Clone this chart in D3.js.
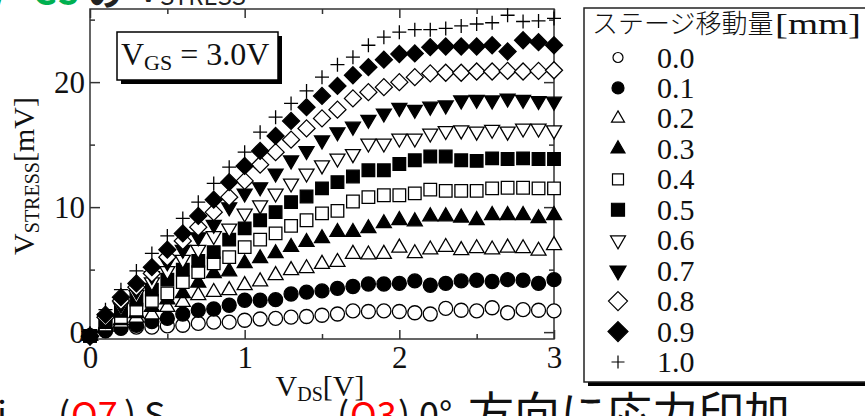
<!DOCTYPE html>
<html><head><meta charset="utf-8">
<script src="https://cdn.jsdelivr.net/npm/d3@7"></script>
<style>
html,body{margin:0;padding:0;background:#fff;}
svg{display:block;}
</style></head><body>
<svg id="chart" width="865" height="416"></svg>
<script>
// Drain voltage sweep [V]
const vds = [0.0,0.1,0.2,0.3,0.4,0.5,0.6,0.7,0.8,0.9,1.0,1.1,1.2,1.3,1.4,1.5,1.6,1.7,1.8,1.9,2.0,2.1,2.2,2.3,2.4,2.5,2.6,2.7,2.8,2.9,3.0];

// V_STRESS [mV] for each stage displacement
const s00 = [-0.3,0.1,0.3,0.4,0.4,0.5,0.55,0.7,0.8,0.8,0.95,1.05,1.1,1.2,1.25,1.35,1.45,1.7,1.65,1.7,1.65,1.55,1.45,1.9,1.75,1.7,1.95,1.55,1.8,1.75,1.7];
const s01 = [-0.3,0.15,0.35,0.55,0.85,1.1,1.45,1.75,1.85,2.15,2.55,2.55,2.6,3.05,3.2,3.3,3.5,3.65,3.85,3.85,3.9,4.1,3.75,3.9,4.1,4.15,4.05,4.2,4.15,3.9,4.2];
const s02 = [-0.3,0.4,0.75,1.15,1.4,2.0,2.4,2.95,3.2,3.35,3.75,4.05,4.55,4.95,5.1,5.45,5.6,6.25,6.2,6.25,6.75,6.3,6.6,6.8,6.55,6.7,6.6,6.75,6.7,6.5,6.95];
const s03 = [-0.3,0.5,0.95,1.5,2.0,2.6,3.1,3.95,4.7,4.85,5.5,5.9,6.3,6.8,7.2,7.5,8.0,8.0,8.3,8.7,8.95,8.85,9.25,9.25,9.15,8.95,9.35,9.35,9.35,9.1,9.35];
const s04 = [-0.3,0.6,1.2,1.8,2.5,3.1,4.0,4.8,5.5,6.0,6.8,7.4,7.9,8.5,8.95,9.5,9.7,10.45,10.8,10.95,10.95,11.1,11.4,11.3,11.3,11.3,11.5,11.55,11.55,11.5,11.5];
const s05 = [-0.3,0.8,1.7,2.6,3.4,4.2,5.0,5.7,6.4,7.4,8.3,8.95,9.6,10.4,10.85,11.5,12.0,12.45,12.95,12.95,13.45,13.75,14.05,14.05,13.75,13.7,13.9,13.85,13.9,13.85,13.85];
const s06 = [-0.3,1.0,2.0,3.0,4.0,4.9,5.8,6.6,7.7,8.3,9.5,10.15,11.1,11.9,12.7,13.35,13.9,14.25,15.1,15.1,15.5,15.5,15.9,16.1,16.15,16.05,16.2,16.05,16.3,16.3,16.15];
const s07 = [-0.3,1.1,2.2,3.3,4.5,5.6,6.6,7.6,8.6,10.0,11.1,11.6,12.7,13.75,14.5,15.35,16.0,16.45,17.0,17.5,17.95,17.8,18.05,18.15,18.55,18.6,18.55,18.7,18.6,18.5,18.45];
const s08 = [-0.3,1.2,2.5,3.6,4.7,6.0,7.3,8.4,9.6,10.8,12.1,13.4,14.4,15.4,16.3,17.1,17.8,18.7,19.2,19.6,20.0,20.4,20.7,20.75,20.75,20.85,20.85,20.9,20.85,20.9,20.95];
const s09 = [-0.35,1.4,2.8,3.9,5.2,6.6,7.9,9.3,10.6,12.0,13.3,14.5,15.7,16.9,18.0,18.9,19.7,20.55,21.2,21.8,22.25,22.3,22.8,22.85,22.85,22.85,22.95,22.45,23.35,23.2,22.95];
const s10 = [-0.3,1.8,3.4,4.9,6.3,7.7,9.1,10.4,11.9,13.2,14.4,16.0,17.2,18.3,19.3,20.4,21.4,22.0,22.95,23.6,24.0,24.2,24.2,24.3,24.5,24.65,24.75,25.35,24.85,24.9,25.1];

const stageLabels = ["0.0","0.1","0.2","0.3","0.4","0.5","0.6","0.7","0.8","0.9","1.0"];
const xMajorTicks = [0,1,2,3];
const xMinorTicks = [0.5,1.5,2.5];
const yMajorTicks = [0,10,20];
const yMinorTicks = [5,15,25];

// ---- marker shapes as d3 symbol types (size = (2*halfWidth)^2) ----
const shapes = {
  circle:  {draw(c,s){const r=Math.sqrt(s)/2; c.moveTo(r,0); c.arc(0,0,r,0,2*Math.PI);}},
  square:  {draw(c,s){const r=Math.sqrt(s)/2; c.rect(-r,-r,2*r,2*r);}},
  triUp:   {draw(c,s){const r=Math.sqrt(s)/2, h=r*Math.sqrt(3); c.moveTo(0,-h*2/3); c.lineTo(r,h/3); c.lineTo(-r,h/3); c.closePath();}},
  triDown: {draw(c,s){const r=Math.sqrt(s)/2, h=r*Math.sqrt(3); c.moveTo(0,h*2/3); c.lineTo(r,-h/3); c.lineTo(-r,-h/3); c.closePath();}},
  diamond: {draw(c,s){const r=Math.sqrt(s)/2; c.moveTo(0,-r); c.lineTo(r,0); c.lineTo(0,r); c.lineTo(-r,0); c.closePath();}},
  plus:    {draw(c,s){const r=Math.sqrt(s)/2; c.moveTo(-r,0); c.lineTo(r,0); c.moveTo(0,-r); c.lineTo(0,r);}}
};

const series = [
  {label: stageLabels[0],  values: s00, shape: "circle",  filled: false, half: 7,   lhalf: 5},
  {label: stageLabels[1],  values: s01, shape: "circle",  filled: true,  half: 7,   lhalf: 6},
  {label: stageLabels[2],  values: s02, shape: "triUp",   filled: false, half: 7.5, lhalf: 6.5},
  {label: stageLabels[3],  values: s03, shape: "triUp",   filled: true,  half: 7.5, lhalf: 7},
  {label: stageLabels[4],  values: s04, shape: "square",  filled: false, half: 6.3, lhalf: 5.5},
  {label: stageLabels[5],  values: s05, shape: "square",  filled: true,  half: 6.3, lhalf: 6.5},
  {label: stageLabels[6],  values: s06, shape: "triDown", filled: false, half: 7.5, lhalf: 7.5},
  {label: stageLabels[7],  values: s07, shape: "triDown", filled: true,  half: 7.5, lhalf: 8},
  {label: stageLabels[8],  values: s08, shape: "diamond", filled: false, half: 8.5, lhalf: 9.5},
  {label: stageLabels[9],  values: s09, shape: "diamond", filled: true,  half: 8.5, lhalf: 10},
  {label: stageLabels[10], values: s10, shape: "plus",    filled: false, half: 7,   lhalf: 6.5}
];

const svg = d3.select("#chart");
const serif = "'Liberation Serif','Times New Roman',serif";
const ink = "#111";

// ---- slide text around the figure ----
const headText = svg.append("g").attr("font-family", "'Noto Sans CJK JP','Noto Sans',sans-serif");
headText.append("text").attr("x", -14).attr("y", 5).attr("font-size", 34).attr("font-weight", "bold").attr("fill", "#00b050").text("V");
headText.append("text").attr("x", 33).attr("y", 5).attr("font-size", 34).attr("font-weight", "bold").attr("fill", "#00b050").text("GS");
headText.append("text").attr("x", 88).attr("y", 6).attr("font-size", 34).attr("font-weight", "bold").attr("fill", "#222").text("の");
headText.append("text").attr("x", 138).attr("y", 2).attr("font-size", 36).attr("fill", "#222").text("V");
headText.append("text").attr("x", 160).attr("y", 5).attr("font-size", 24).attr("fill", "#222").text("STRESS");

const footText = svg.append("g").attr("font-family", "'Noto Sans CJK JP','Noto Sans',sans-serif");
const footBits = [
  {x: -3,  y: 428, size: 36, text: "i",  color: "#111"},
  {x: 58,  y: 428, size: 36, text: "(",  color: "#111"},
  {x: 71,  y: 428, size: 36, text: "Q7", color: "#ff0000"},
  {x: 124, y: 428, size: 36, text: ")",  color: "#111"},
  {x: 144, y: 428, size: 36, text: "S",  color: "#111"},
  {x: 337, y: 428, size: 36, text: "(",  color: "#111"},
  {x: 350, y: 428, size: 36, text: "Q3", color: "#ff0000"},
  {x: 398, y: 428, size: 36, text: ")",  color: "#111"},
  {x: 419, y: 428, size: 36, text: "0°", color: "#111"},
  {x: 468, y: 430, size: 46, text: "方向に応力印加", color: "#111"}
];
footText.selectAll("text").data(footBits).join("text")
  .attr("x", d => d.x).attr("y", d => d.y).attr("font-size", d => d.size)
  .attr("fill", d => d.color).text(d => d.text);

// ---- plot area ----
const x = d3.scaleLinear().domain([0, 3]).range([90, 554]);
const y = d3.scaleLinear().domain([-0.55, 25.85]).range([339, 9]);

const axisStyle = g => {
  g.selectAll("path.domain").remove();
  g.selectAll("line").attr("stroke", "#333").attr("stroke-width", 1.5);
  g.selectAll("text").attr("font-family", serif).attr("font-size", 31).attr("fill", ink);
};

// bottom axis
svg.append("g").attr("transform", `translate(0,${y.range()[0]})`)
  .call(d3.axisBottom(x).tickValues(xMajorTicks).tickFormat(d3.format("d")).tickSize(-9).tickPadding(7))
  .call(axisStyle);
svg.append("g").attr("transform", `translate(0,${y.range()[0]})`)
  .call(d3.axisBottom(x).tickValues(xMinorTicks).tickFormat("").tickSize(-5)).call(axisStyle);
// top axis
svg.append("g").attr("transform", `translate(0,${y.range()[1]})`)
  .call(d3.axisTop(x).tickValues(xMajorTicks).tickFormat("").tickSize(-9)).call(axisStyle);
svg.append("g").attr("transform", `translate(0,${y.range()[1]})`)
  .call(d3.axisTop(x).tickValues(xMinorTicks).tickFormat("").tickSize(-5)).call(axisStyle);
// left axis
svg.append("g").attr("transform", `translate(${x.range()[0]},0)`)
  .call(d3.axisLeft(y).tickValues(yMajorTicks).tickFormat(d3.format("d")).tickSize(-10).tickPadding(5))
  .call(axisStyle);
svg.append("g").attr("transform", `translate(${x.range()[0]},0)`)
  .call(d3.axisLeft(y).tickValues(yMinorTicks).tickFormat("").tickSize(-5)).call(axisStyle);
// right axis
svg.append("g").attr("transform", `translate(${x.range()[1]},0)`)
  .call(d3.axisRight(y).tickValues(yMajorTicks).tickFormat("").tickSize(-10)).call(axisStyle);
svg.append("g").attr("transform", `translate(${x.range()[1]},0)`)
  .call(d3.axisRight(y).tickValues(yMinorTicks).tickFormat("").tickSize(-5)).call(axisStyle);

// frame
svg.append("rect")
  .attr("x", x.range()[0]).attr("y", y.range()[1])
  .attr("width", x.range()[1] - x.range()[0]).attr("height", y.range()[0] - y.range()[1])
  .attr("fill", "none").attr("stroke", "#333").attr("stroke-width", 1.5);

// axis titles
const xt = svg.append("text").attr("x", 320).attr("y", 396).attr("text-anchor", "middle")
  .attr("font-family", serif).attr("font-size", 30).attr("fill", ink);
xt.append("tspan").text("V");
xt.append("tspan").attr("font-size", 20).attr("dy", 5).text("DS");
xt.append("tspan").attr("dy", -5).text("[V]");

const yt = svg.append("text").attr("transform", "translate(34,176) rotate(-90)").attr("text-anchor", "middle")
  .attr("font-family", serif).attr("font-size", 30).attr("fill", ink);
yt.append("tspan").text("V");
yt.append("tspan").attr("font-size", 20).attr("dy", 5).text("STRESS");
yt.append("tspan").attr("dy", -5).text("[mV]");

// ---- data markers ----
const plot = svg.append("g");
series.forEach(s => {
  const sym = d3.symbol().type(shapes[s.shape]).size((2 * s.half) ** 2);
  plot.append("g").selectAll("path")
    .data(s.values.map((v, i) => [vds[i], v]))
    .join("path")
    .attr("transform", d => `translate(${x(d[0])},${y(d[1])})`)
    .attr("d", sym)
    .attr("fill", s.filled ? "#000" : (s.shape === "plus" ? "none" : "#fff"))
    .attr("stroke", "#000")
    .attr("stroke-width", 1.3);
});

// ---- condition box ----
svg.append("rect").attr("x", 121).attr("y", 36).attr("width", 161).attr("height", 48).attr("fill", "#000");
svg.append("rect").attr("x", 117).attr("y", 32).attr("width", 161).attr("height", 48)
  .attr("fill", "#fff").attr("stroke", "#000").attr("stroke-width", 1.5);
const cond = svg.append("text").attr("x", 121).attr("y", 65)
  .attr("font-family", serif).attr("font-size", 32).attr("fill", ink);
cond.append("tspan").text("V");
cond.append("tspan").attr("font-size", 22).attr("dy", 5).text("GS");
cond.append("tspan").attr("dy", -5).text(" = 3.0V");

// ---- legend ----
svg.append("rect").attr("x", 588).attr("y", 12).attr("width", 300).attr("height", 374).attr("fill", "#000");
svg.append("rect").attr("x", 584).attr("y", 8).attr("width", 300).attr("height", 374)
  .attr("fill", "#fff").attr("stroke", "#222").attr("stroke-width", 1.5);
svg.append("text").attr("x", 592).attr("y", 33)
  .attr("font-family", "'Noto Sans CJK JP',sans-serif").attr("font-size", 26).attr("font-weight", 300).attr("fill", ink)
  .text("ステージ移動量");
svg.append("text").attr("x", 775).attr("y", 34)
  .attr("font-family", serif).attr("font-size", 29).attr("fill", ink)
  .attr("textLength", 86).attr("lengthAdjust", "spacingAndGlyphs")
  .text("[mm]");

const rowY = d3.scaleLinear().domain([0, 10]).range([57.5, 362]);
const leg = svg.append("g").selectAll("g").data(series).join("g")
  .attr("transform", (d, i) => `translate(0,${rowY(i)})`);
leg.append("path")
  .attr("transform", "translate(618,0)")
  .attr("d", d => d3.symbol().type(shapes[d.shape]).size((2 * d.lhalf) ** 2)())
  .attr("fill", d => d.filled ? "#000" : (d.shape === "plus" ? "none" : "#fff"))
  .attr("stroke", "#000").attr("stroke-width", 1.2);
leg.append("text").attr("x", 657).attr("y", 10)
  .attr("font-family", serif).attr("font-size", 30).attr("fill", ink)
  .text(d => d.label);
</script>
</body></html>
